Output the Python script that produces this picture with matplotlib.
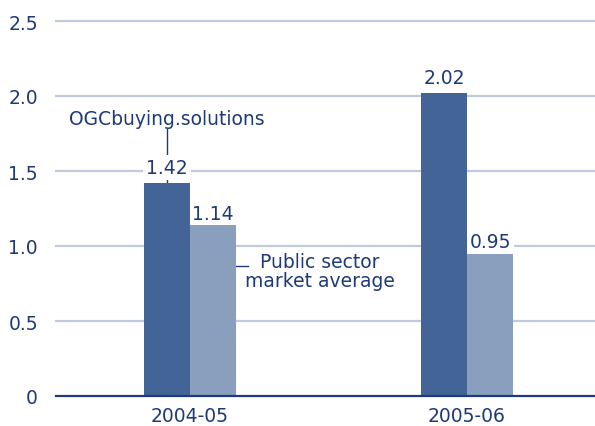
import numpy as np
import matplotlib.pyplot as plt

# data
years = ['2004-05', '2005-06']
ogc = [1.42, 2.02]
public_avg = [1.14, 0.95]
yticks = [0, 0.5, 1.0, 1.5, 2.0, 2.5]
ytick_labels = ['0', '0.5', '1.0', '1.5', '2.0', '2.5']

dark = '#426496'
light = '#8a9fbe'
navy = '#1e3a78'
grid_col = '#bfcadc'
fs = 13.5

fig = plt.figure(figsize=(5.95, 4.27), dpi=100, facecolor='w')
ax = fig.add_axes([56 / 595, 1 - 397 / 427, 1 - 56 / 595, (397 - 22) / 427])

x = np.arange(len(years))
w = 0.166
ax.bar(x - w / 2, ogc, w, color=dark, zorder=2)
ax.bar(x + w / 2, public_avg, w, color=light, zorder=2)

for yv in yticks[1:]:
    ax.axhline(yv, color=grid_col, lw=1.6, zorder=0, clip_on=False)
ax.axhline(0, color=navy, lw=1.6, zorder=3, clip_on=False)

# value labels with white boxes that break the gridlines (but sit under the bars)
box = dict(facecolor='w', edgecolor='none', pad=2)
for xi, v in zip(x, ogc):
    ax.text(xi - w / 2, v + 0.04, '%.2f' % v, ha='center', va='bottom',
            fontsize=fs, color=navy, bbox=box, zorder=1.5)
for xi, v in zip(x, public_avg):
    ax.text(xi + w / 2, v + 0.015, '%.2f' % v, ha='center', va='bottom',
            fontsize=fs, color=navy, bbox=box, zorder=1.5)

# series annotations
ax.plot([x[0] - w / 2] * 2, [ogc[0], 1.78], color=navy, lw=1, zorder=1)
ax.text(x[0] - w / 2, 1.785, 'OGCbuying.solutions', ha='center', va='bottom',
        fontsize=fs, color=navy)
ax.plot([x[0] + w, 0.209], [0.867, 0.867], color=navy, lw=1, zorder=1)
ax.text(0.469, 0.835, 'Public sector\nmarket average', ha='center',
        va='center', fontsize=fs, color=navy, linespacing=1.0)

ax.set_xlim(-0.484, 1.462)
ax.set_ylim(0, 2.5)
ax.set_xticks(x)
ax.set_xticklabels(years)
ax.set_yticks(yticks)
ax.set_yticklabels(ytick_labels)
ax.tick_params(length=0, labelsize=fs, labelcolor=navy)
ax.tick_params(axis='y', pad=13)
ax.tick_params(axis='x', pad=7)
for s in ax.spines.values():
    s.set_visible(False)

fig.savefig('out.png', dpi=100, facecolor='w')
